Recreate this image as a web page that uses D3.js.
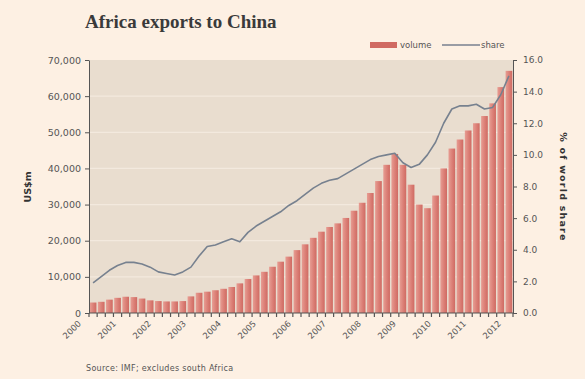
<!DOCTYPE html>
<html>
<head>
<meta charset="utf-8">
<script src="https://cdn.jsdelivr.net/npm/d3@7"></script>
<style>
  html, body { margin: 0; padding: 0; background: #fdf0e3; }
  svg { display: block; }
</style>
</head>
<body>
<svg id="chart" width="585" height="379"></svg>
<script>
// Category labels: one bar per quarter, one axis label per year
const years = ["2000", "2001", "2002", "2003", "2004", "2005", "2006",
               "2007", "2008", "2009", "2010", "2011", "2012"];
const quarters = years.flatMap(y => ["Q1", "Q2", "Q3", "Q4"].map(q => y + " " + q));

// Exports to China, US$m (bars, left axis)
const volume = [
  2900, 3100, 3700, 4200, 4500, 4400, 4000, 3500,
  3300, 3200, 3200, 3300, 4600, 5600, 5900, 6300,
  6700, 7200, 8200, 9400, 10400, 11400, 12800, 14200,
  15600, 17400, 19000, 20800, 22500, 23800, 24800, 26300,
  28300, 30500, 33200, 36500, 41000, 44000, 41000, 35500,
  30000, 29000, 32500, 40000, 45500, 48000, 50500, 52500,
  54500, 58000, 62500, 67000
];

// China's share of Africa's exports, % (line, right axis)
const share = [
  1.9, 2.3, 2.7, 3.0, 3.2, 3.2, 3.1, 2.9,
  2.6, 2.5, 2.4, 2.6, 2.9, 3.6, 4.2, 4.3,
  4.5, 4.7, 4.5, 5.1, 5.5, 5.8, 6.1, 6.4,
  6.8, 7.1, 7.5, 7.9, 8.2, 8.4, 8.5, 8.8,
  9.1, 9.4, 9.7, 9.9, 10.0, 10.1, 9.5, 9.2,
  9.4, 10.0, 10.8, 12.0, 12.9, 13.1, 13.1, 13.2,
  12.9, 13.0, 13.8, 15.0
];

const volumeTicks = [0, 10000, 20000, 30000, 40000, 50000, 60000, 70000];
const shareTicks = [0, 2, 4, 6, 8, 10, 12, 14, 16];

const W = 585, H = 379;
const plot = { left: 89, right: 513, top: 60, bottom: 313 };
const ink = "#555";
const font = "'DejaVu Sans', Verdana, sans-serif";

const svg = d3.select("#chart");
svg.append("rect").attr("width", W).attr("height", H).attr("fill", "#fdf0e3");

const defs = svg.append("defs");
const grad = defs.append("linearGradient").attr("id", "barFill")
  .attr("x1", "0").attr("x2", "1").attr("y1", "0").attr("y2", "0");
grad.append("stop").attr("offset", "0%").attr("stop-color", "#e79d93");
grad.append("stop").attr("offset", "55%").attr("stop-color", "#db7f76");
grad.append("stop").attr("offset", "100%").attr("stop-color", "#cf6a62");

const x = d3.scaleBand().domain(quarters)
  .range([plot.left, plot.right]).paddingInner(0.18).paddingOuter(0.09);
const yL = d3.scaleLinear().domain([0, 70000]).range([plot.bottom, plot.top]);
const yR = d3.scaleLinear().domain([0, 16]).range([plot.bottom, plot.top]);
const xYear = d3.scalePoint().domain(years).range([plot.left - 10, plot.right - 14]);

// Plot background and light gridlines
svg.append("rect")
  .attr("x", plot.left).attr("y", plot.top)
  .attr("width", plot.right - plot.left).attr("height", plot.bottom - plot.top)
  .attr("fill", "#e9ddcf");
svg.append("g").selectAll("line")
  .data(volumeTicks.filter(v => v > 0 && v < 70000))
  .join("line")
  .attr("x1", plot.left).attr("x2", plot.right)
  .attr("y1", d => yL(d)).attr("y2", d => yL(d))
  .attr("stroke", "#f3e9de").attr("stroke-width", 1.2);

// Bars
svg.append("g").selectAll("rect")
  .data(volume)
  .join("rect")
  .attr("x", (d, i) => x(quarters[i]))
  .attr("width", x.bandwidth())
  .attr("y", d => yL(d))
  .attr("height", d => yL(0) - yL(d))
  .attr("fill", "url(#barFill)");

// Share line
svg.append("path")
  .datum(share)
  .attr("fill", "none")
  .attr("stroke", "#77818f")
  .attr("stroke-width", 1.6)
  .attr("stroke-linejoin", "round")
  .attr("d", d3.line()
    .x((d, i) => x(quarters[i]) + x.bandwidth() / 2)
    .y(d => yR(d)));

// Left axis
const gL = svg.append("g").attr("transform", `translate(${plot.left},0)`)
  .call(d3.axisLeft(yL).tickValues(volumeTicks).tickFormat(d3.format(","))
    .tickSize(4).tickSizeOuter(0).tickPadding(4));
// Right axis
const gR = svg.append("g").attr("transform", `translate(${plot.right},0)`)
  .call(d3.axisRight(yR).tickValues(shareTicks).tickFormat(d3.format(".1f"))
    .tickSize(4).tickSizeOuter(0).tickPadding(6));
[gL, gR].forEach(g => {
  g.select(".domain").attr("stroke", ink);
  g.selectAll(".tick line").attr("stroke", ink);
  g.selectAll("text").attr("fill", "#555");
});
gL.selectAll("text").style("font", `9.5px ${font}`);
gR.selectAll("text").style("font", `9px ${font}`);

// Bottom axis line with a tick between each quarter
svg.append("line")
  .attr("x1", plot.left).attr("x2", plot.right)
  .attr("y1", plot.bottom).attr("y2", plot.bottom)
  .attr("stroke", ink);
svg.append("g").selectAll("line")
  .data(quarters.concat(["end"]))
  .join("line")
  .attr("x1", (d, i) => i < quarters.length ? x(d) - x.step() * x.paddingInner() / 2 : plot.right)
  .attr("x2", (d, i) => i < quarters.length ? x(d) - x.step() * x.paddingInner() / 2 : plot.right)
  .attr("y1", plot.bottom).attr("y2", plot.bottom + 4)
  .attr("stroke", ink).attr("stroke-width", 1.2);

// Year labels, rotated
const gX = svg.append("g").attr("transform", `translate(0,${plot.bottom + 9})`)
  .call(d3.axisBottom(xYear).tickSize(0));
gX.select(".domain").remove();
gX.selectAll("text")
  .attr("x", 0).attr("y", 0).attr("dy", "0.35em")
  .attr("transform", "rotate(-45)")
  .style("text-anchor", "end")
  .attr("fill", "#555").style("font", `8.5px ${font}`);

// Axis titles
svg.append("text")
  .attr("transform", "translate(31,187) rotate(-90)")
  .attr("text-anchor", "middle")
  .attr("fill", "#333").style("font", `bold 9.5px ${font}`)
  .text("US$m");
svg.append("text")
  .attr("transform", "translate(560,187) rotate(90)")
  .attr("text-anchor", "middle")
  .attr("fill", "#333").style("font", `bold 9.5px ${font}`)
  .style("letter-spacing", "1.2px")
  .text("% of world share");

// Title
svg.append("text")
  .attr("x", 85).attr("y", 28)
  .attr("fill", "#3a3a3a")
  .style("font", "bold 19px 'Liberation Serif', 'DejaVu Serif', serif")
  .text("Africa exports to China");

// Legend
const lg = svg.append("g").attr("transform", "translate(370,45)");
lg.append("rect").attr("x", 0).attr("y", -3).attr("width", 27).attr("height", 6).attr("fill", "#d06a62");
lg.append("text").attr("x", 30).attr("y", 3).attr("fill", "#555")
  .style("font", `8.5px ${font}`).text("volume");
lg.append("line").attr("x1", 72).attr("x2", 110).attr("y1", 0).attr("y2", 0)
  .attr("stroke", "#77818f").attr("stroke-width", 1.6);
lg.append("text").attr("x", 111).attr("y", 3).attr("fill", "#555")
  .style("font", `8.5px ${font}`).text("share");

// Source note
svg.append("text")
  .attr("x", 86).attr("y", 371)
  .attr("fill", "#555").style("font", `8px ${font}`)
  .style("letter-spacing", "0.3px")
  .text("Source: IMF; excludes south Africa");
</script>
</body>
</html>
